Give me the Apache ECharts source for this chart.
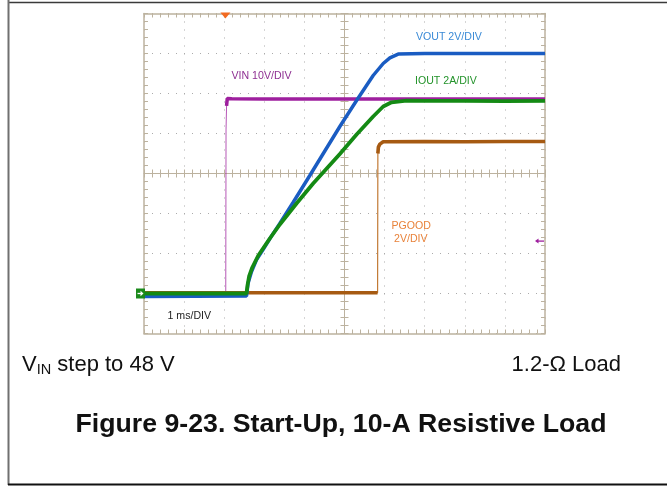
<!DOCTYPE html>
<html>
<head>
<meta charset="utf-8">
<script src="https://cdn.jsdelivr.net/npm/echarts@6.0.0/dist/echarts.min.js"></script>
<style>
  html, body { margin: 0; padding: 0; background: #fff; }
  #chart { width: 667px; height: 486px; }
</style>
</head>
<body>
<div id="chart"></div>
<script>
// Start-up capture, 1 ms/div, time in ms relative to the trigger.
const timeRange = [-2, 8];

// VIN channel, volts (10 V/div)
const vinTime  = [-2, 0.039, 0.046, 0.059, 0.076, 0.114, 0.189, 1, 2, 3, 4, 5, 6, 7, 8];
const vinVolts = [0, 0, 40.9, 46.9, 48.75, 48.5, 48.7, 48.6, 48.65, 48.6, 48.6, 48.65, 48.6, 48.6, 48.6];
const vinEdgeEnd = 2;          // last point of the fast rising edge

// VOUT channel, volts (2 V/div)
const voutTime  = [-2, 0.556, 0.595, 0.680, 0.805, 0.970, 1.179, 1.387, 1.718, 2.135, 2.884, 3.301, 3.715, 3.965, 4.132, 4.339, 5, 6, 7, 8];
const voutVolts = [-0.15, -0.13, 0.51, 1.09, 1.68, 2.2, 2.87, 3.5, 4.55, 5.9, 8.35, 9.65, 10.9, 11.5, 11.78, 11.97, 12.0, 12.0, 12.0, 12.0];

// IOUT channel, amps (2 A/div)
const ioutTime = [-2, 0.556, 0.58, 0.62, 0.70, 0.85, 1.137, 1.387, 1.803, 2.218, 2.884, 3.301, 3.715, 3.965, 4.174, 4.548, 5, 6, 7, 8];
const ioutAmps = [0, 0, 0.4, 0.85, 1.3, 1.9, 2.75, 3.45, 4.5, 5.5, 6.98, 7.95, 8.85, 9.35, 9.56, 9.64, 9.63, 9.63, 9.62, 9.63];

// PGOOD channel, volts (2 V/div)
const pgoodTime  = [-2, 3.825, 3.832, 3.845, 3.882, 3.965, 5, 6, 7, 8];
const pgoodVolts = [0.04, 0.04, 7.0, 7.32, 7.47, 7.59, 7.6, 7.59, 7.6, 7.6];
const pgoodEdgeEnd = 1;

// Scope markers
const triggerTime = 0.03;      // ms
const vinTriggerLevel = 13.1;  // V

// Per-channel vertical ranges: 8 divisions, ground one division above the bottom
const vinRange   = [-10, 70];
const voutRange  = [-2, 14];
const ioutRange  = [-2, 14];
const pgoodRange = [-2, 14];

const colors = {
  vin: '#9e1f9e', vinText: '#8e3092',
  vout: '#1a5cc2', voutText: '#3a8ad6',
  iout: '#148a14', ioutText: '#23932a',
  pgood: '#a65a12', pgoodText: '#e8823a',
  frame: '#bcb29f', dots: '#ababab'
};

function pairs(t, v) { return t.map((x, i) => [x, v[i]]); }
// Same trace with its fast edge left as a gap (that edge is drawn only as a thin stroke)
function splitAt(t, v, lastLow, firstHigh) {
  const out = [];
  t.forEach((x, i) => {
    if (i > lastLow && i < firstHigh) return;
    out.push([x, v[i]]);
    if (i === lastLow) out.push([x, '-']);
  });
  return out;
}

const chart = echarts.init(document.getElementById('chart'), null, { renderer: 'canvas' });

function frameAxis(extra) {
  return Object.assign({
    type: 'value',
    axisLine: { show: true, onZero: false, lineStyle: { color: colors.frame, width: 1.5 } },
    axisTick: { show: true, inside: true, length: 4, lineStyle: { color: colors.frame, width: 1 } },
    minorTick: { show: true, splitNumber: 5, length: 4, lineStyle: { color: colors.frame, width: 1 } },
    axisLabel: { show: false },
    splitLine: { show: false }
  }, extra);
}
const dotted = { show: true, lineStyle: { color: colors.dots, width: 1, type: [1, 7] } };

function channelAxis(r) {
  return { type: 'value', min: r[0], max: r[1], show: false };
}

const xCommon = { min: timeRange[0], max: timeRange[1], interval: 1 };
const yCommon = { min: 0, max: 8, interval: 1 };

chart.setOption({
  animation: false,
  backgroundColor: '#fff',
  grid: { left: 144, top: 13.5, right: 122, bottom: 152.5, containLabel: false },
  xAxis: [
    frameAxis(Object.assign({ position: 'bottom', splitLine: dotted }, xCommon)),
    frameAxis(Object.assign({ position: 'top' }, xCommon)),
    frameAxis(Object.assign({ position: 'bottom', offset: -160, axisLine: { show: true, onZero: false, lineStyle: { color: colors.frame, width: 1 } } }, xCommon)),
    frameAxis(Object.assign({ position: 'bottom', offset: -160, axisLine: { show: false, onZero: false },
      axisTick: { show: true, inside: false, length: 4, lineStyle: { color: colors.frame } },
      minorTick: { show: true, splitNumber: 5, length: 4, lineStyle: { color: colors.frame } } }, xCommon))
  ],
  yAxis: [
    frameAxis(Object.assign({ position: 'left', splitLine: dotted }, yCommon)),
    frameAxis(Object.assign({ position: 'right' }, yCommon)),
    frameAxis(Object.assign({ position: 'left', offset: -200.5, axisLine: { show: true, onZero: false, lineStyle: { color: colors.frame, width: 1 } } }, yCommon)),
    frameAxis(Object.assign({ position: 'left', offset: -200.5, axisLine: { show: false, onZero: false },
      axisTick: { show: true, inside: false, length: 4, lineStyle: { color: colors.frame } },
      minorTick: { show: true, splitNumber: 5, length: 4, lineStyle: { color: colors.frame } } }, yCommon)),
    channelAxis(vinRange),
    channelAxis(voutRange),
    channelAxis(ioutRange),
    channelAxis(pgoodRange)
  ],
  series: [
    { name: 'VIN edge', type: 'line', xAxisIndex: 0, yAxisIndex: 4, data: pairs(vinTime, vinVolts),
      showSymbol: false, symbol: 'none', silent: true, lineStyle: { color: colors.vin, width: 1, opacity: 0.75 } },
    { name: 'VIN', type: 'line', xAxisIndex: 0, yAxisIndex: 4, data: splitAt(vinTime, vinVolts, 1, vinEdgeEnd + 1),
      showSymbol: false, symbol: 'none', silent: true, lineStyle: { color: colors.vin, width: 3.5 } },
    { name: 'PGOOD edge', type: 'line', xAxisIndex: 0, yAxisIndex: 7, data: pairs(pgoodTime, pgoodVolts),
      showSymbol: false, symbol: 'none', silent: true, lineStyle: { color: '#c27a35', width: 1.2 } },
    { name: 'PGOOD', type: 'line', xAxisIndex: 0, yAxisIndex: 7, data: splitAt(pgoodTime, pgoodVolts, pgoodEdgeEnd, pgoodEdgeEnd + 1),
      showSymbol: false, symbol: 'none', silent: true, lineStyle: { color: colors.pgood, width: 3.6 } },
    { name: 'VOUT', type: 'line', xAxisIndex: 0, yAxisIndex: 5, data: pairs(voutTime, voutVolts),
      showSymbol: false, symbol: 'none', silent: true, lineStyle: { color: colors.vout, width: 3.5 } },
    { name: 'IOUT', type: 'line', xAxisIndex: 0, yAxisIndex: 6, data: pairs(ioutTime, ioutAmps),
      showSymbol: false, symbol: 'none', silent: true, lineStyle: { color: colors.iout, width: 3.8 } }
  ]
});

// Markers and annotation text, placed through the axes' own pixel mapping
const gridTop = 13.5;
const gridLeft = 144;
const gridRight = 545;
const trigX = chart.convertToPixel({ xAxisIndex: 0 }, triggerTime);
const groundY = chart.convertToPixel({ yAxisIndex: 6 }, 0);
const levelY = chart.convertToPixel({ yAxisIndex: 4 }, vinTriggerLevel);

const scopeFont = '"Liberation Sans", Arial, sans-serif';
function label(text, x, y, color, size) {
  return { type: 'text', x: x, y: y, silent: true, z: 100,
    style: { text: text, fill: color, font: (size || 10.6) + 'px ' + scopeFont, textVerticalAlign: 'middle' } };
}
function shape(type, shapeDef, style) {
  return { type: type, silent: true, z: 100, shape: shapeDef, style: style };
}

chart.setOption({
  graphic: [
    // page frame
    shape('line', { x1: 8, y1: 2.5, x2: 667, y2: 2.5 }, { stroke: '#3a3a3a', lineWidth: 1.5 }),
    shape('line', { x1: 8.5, y1: 0, x2: 8.5, y2: 485 }, { stroke: '#707070', lineWidth: 2 }),
    shape('line', { x1: 8, y1: 484.5, x2: 667, y2: 484.5 }, { stroke: '#111', lineWidth: 2 }),

    // trigger position
    shape('polygon', { points: [[trigX - 5, gridTop - 1], [trigX + 5, gridTop - 1], [trigX, gridTop + 5]] }, { fill: '#f26a21' }),
    // channel ground reference
    shape('rect', { x: gridLeft - 8, y: groundY - 5, width: 9, height: 10 }, { fill: '#1b8a1b' }),
    shape('line', { x1: gridLeft - 6.5, y1: groundY, x2: gridLeft - 3, y2: groundY }, { stroke: '#fff', lineWidth: 1.3 }),
    shape('polygon', { points: [[gridLeft - 0.5, groundY], [gridLeft - 3.5, groundY - 2.7], [gridLeft - 3.5, groundY + 2.7]] }, { fill: '#fff' }),
    // VIN trigger level
    shape('line', { x1: gridRight - 8, y1: levelY, x2: gridRight - 1, y2: levelY }, { stroke: colors.vin, lineWidth: 1.3 }),
    shape('polygon', { points: [[gridRight - 10, levelY], [gridRight - 6.5, levelY - 2.5], [gridRight - 6.5, levelY + 2.5]] }, { fill: colors.vin }),

    // channel annotations
    label('VIN 10V/DIV', 231.5, 76, colors.vinText),
    label('VOUT 2V/DIV', 416, 37, colors.voutText),
    label('IOUT 2A/DIV', 415, 81, colors.ioutText),
    label('PGOOD', 391.5, 226, colors.pgoodText),
    label('2V/DIV', 394, 239.5, colors.pgoodText),
    label('1 ms/DIV', 167.5, 316, '#222'),

    // captions
    { type: 'text', x: 22, y: 365, silent: true, z: 100,
      style: { text: '{v|V}{sub|IN}{v| step to 48 V}', textVerticalAlign: 'middle',
        rich: {
          v: { fontSize: 22, fontFamily: scopeFont, fill: '#111', color: '#111' },
          sub: { fontSize: 14.5, fontFamily: scopeFont, fill: '#111', color: '#111', verticalAlign: 'bottom', padding: [10, 0, 0, 0] }
        } } },
    { type: 'text', x: 621, y: 365, silent: true, z: 100,
      style: { text: '1.2-Ω Load', textAlign: 'right', textVerticalAlign: 'middle', fill: '#111', font: '22px ' + scopeFont } },
    { type: 'text', x: 341, y: 425, silent: true, z: 100,
      style: { text: 'Figure 9-23. Start-Up, 10-A Resistive Load', textAlign: 'center', textVerticalAlign: 'middle',
        fill: '#111', font: 'bold 26.7px ' + scopeFont } }
  ]
});
</script>
</body>
</html>
